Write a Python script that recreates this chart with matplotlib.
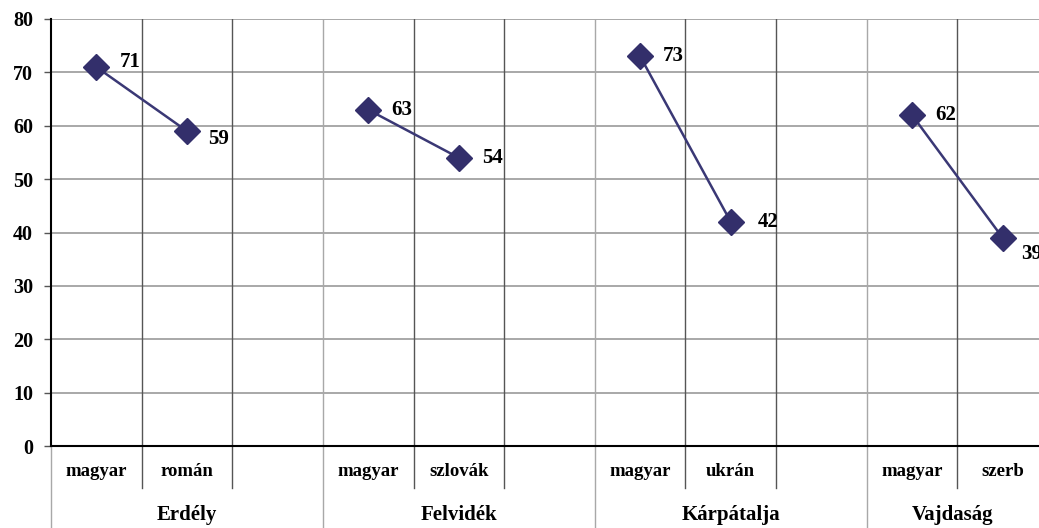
import matplotlib
matplotlib.use('Agg')
import matplotlib.pyplot as plt
from matplotlib.transforms import blended_transform_factory

regions = ['Erdély', 'Felvidék', 'Kárpátalja', 'Vajdaság']
categories = ['magyar', 'román', '', 'magyar', 'szlovák', '', 'magyar', 'ukrán', '', 'magyar', 'szerb']
group_values = [[71, 59], [63, 54], [73, 42], [62, 39]]
y_ticks = [0, 10, 20, 30, 40, 50, 60, 70, 80]

# label offsets in pixels (dx, dy) - styling only
label_offsets = [(23, 5), (21, -8), (23, 0), (23, 0), (23, 0), (27, 0), (23, 0), (18, -16)]

W, H = 1039, 528
fig = plt.figure(figsize=(W / 100, H / 100), dpi=100)
ax = fig.add_axes([51 / W, (H - 446) / H, (1048 - 51) / W, (446 - 19) / H])

FONT = 'Liberation Serif'
line_color = '#3a3875'
mk_color = '#332f6b'

ax.set_xlim(-0.5, 10.5)
ax.set_ylim(0, 80)
ax.set_yticks(y_ticks)
ax.set_yticklabels([str(t) for t in y_ticks], fontfamily=FONT, fontweight='bold', fontsize=14.5)
ax.tick_params(axis='y', length=5, width=1, color='#555555', pad=8)
ax.set_xticks([])

for s in ['top', 'right']:
    ax.spines[s].set_visible(False)
ax.spines['left'].set_color('black')
ax.spines['left'].set_linewidth(1.5)
ax.spines['bottom'].set_color('black')
ax.spines['bottom'].set_linewidth(1.5)
ax.spines['bottom'].set_zorder(5)

for t in y_ticks[1:]:
    ax.axhline(t, color='#9a9a9a', lw=1.2, zorder=1)

ncat = len(categories)
for b in range(1, ncat + 1):
    xb = b - 0.5
    is_group = (b % 3 == 0)
    ax.axvline(xb, color='#a8a8a8' if is_group else '#555555', lw=1.0, zorder=1)

trans = blended_transform_factory(ax.transData, fig.transFigure)
# separators below axis
for b in range(0, ncat + 1):
    xb = b - 0.5
    is_group = (b % 3 == 0)
    y_end = 0.0 if is_group else (H - 488) / H
    ax.plot([xb, xb], [(H - 446) / H, y_end], transform=trans, clip_on=False,
            color='#a8a8a8' if is_group else '#555555', lw=1.0)

for i, c in enumerate(categories):
    if c:
        ax.text(i, (H - 471) / H, c, transform=trans, ha='center', va='center',
                fontfamily=FONT, fontweight='bold', fontsize=13.5)

# visible right edge in data coordinates
fig.canvas.draw()
x_right_vis = ax.transData.inverted().transform((W, 0))[0]
for g, r in enumerate(regions):
    lo = 3 * g - 0.5
    hi = min(3 * g + 2.5, x_right_vis)
    ax.text((lo + hi) / 2, (H - 515) / H, r, transform=trans, ha='center', va='center',
            fontfamily=FONT, fontweight='bold', fontsize=15)

k = 0
for g, vals in enumerate(group_values):
    xs = [3 * g, 3 * g + 1]
    ax.plot(xs, vals, color=line_color, lw=1.8, zorder=3, clip_on=False,
            marker='D', markersize=13, markerfacecolor=mk_color, markeredgecolor=mk_color)
    for x, v in zip(xs, vals):
        dx, dy = label_offsets[k]
        ax.annotate(str(v), (x, v), xytext=(dx, dy), textcoords='offset pixels',
                    ha='left', va='center', fontfamily=FONT, fontweight='bold',
                    fontsize=15, annotation_clip=False)
        k += 1

fig.savefig('out.png', dpi=100)
